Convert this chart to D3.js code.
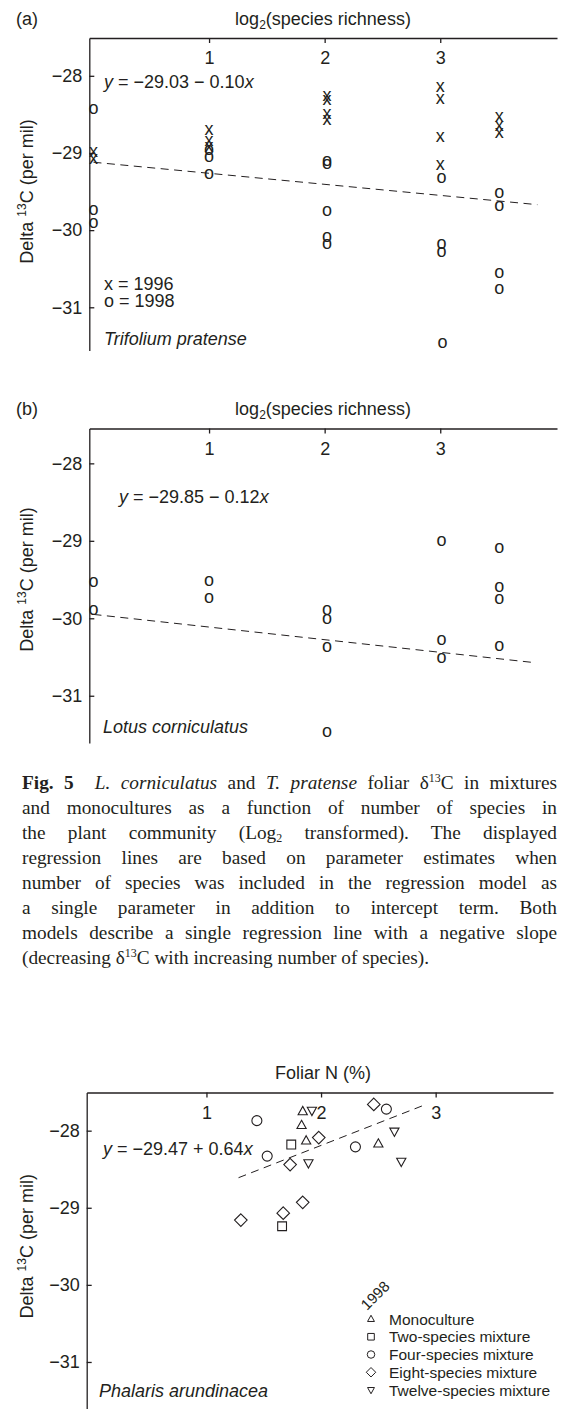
<!DOCTYPE html>
<html>
<head>
<meta charset="utf-8">
<script src="https://cdn.jsdelivr.net/npm/d3@7"></script>
<style>
  body { margin: 0; background: #fff; }
  #fig { position: relative; width: 563px; height: 1409px; overflow: hidden; }
  #chart { position: absolute; left: 0; top: 0; }
  .cap { position: absolute; left: 22px; width: 535px; color: #231f20;
         font-family: "Liberation Serif", "Times New Roman", serif; font-size: 19.3px; line-height: 25px; }
  .cap div { height: 25px; text-align: justify; white-space: nowrap; }
  .cap sup { font-size: 0.62em; vertical-align: 0.55em; line-height: 0; }
  .cap sub { font-size: 0.62em; vertical-align: -0.25em; line-height: 0; }
</style>
</head>
<body>
<div id="fig"><svg id="chart" width="563" height="1409"></svg></div>
<script>
// tick values shared by the three panels
var xTicks = [1, 2, 3];
var yTicks = [-28, -29, -30, -31];

// (a) Trifolium pratense: [log2 species richness, delta 13C]
var trifolium1996 = [[0, -28.99], [0, -29.08], [1, -28.71], [1, -28.85], [1, -28.92],
  [2.02, -28.26], [2.02, -28.32], [2.02, -28.50], [2.02, -28.58],
  [3, -28.15], [3, -28.30], [3, -28.80], [3, -29.16],
  [3.51, -28.54], [3.51, -28.65], [3.51, -28.74]];
var trifolium1998 = [[0, -28.43], [0, -29.74], [0, -29.91], [1, -28.96], [1, -29.05], [1, -29.28],
  [2.02, -29.11], [2.02, -29.14], [2.02, -29.76], [2.02, -30.09], [2.02, -30.18],
  [3.01, -29.33], [3.01, -30.18], [3.01, -30.28], [3.02, -31.46],
  [3.51, -29.52], [3.51, -29.69], [3.51, -30.56], [3.51, -30.76]];
var trifoliumLine = [[0, -29.12], [3.84, -29.67]];

// (b) Lotus corniculatus
var lotus1998 = [[0, -29.53], [0, -29.90], [1, -29.52], [1, -29.74],
  [2.02, -29.89], [2.02, -30.01], [2.02, -30.37], [2.02, -31.47],
  [3.01, -29.00], [3.01, -30.28], [3.01, -30.52],
  [3.51, -29.09], [3.51, -29.60], [3.51, -29.75], [3.51, -30.36]];
var lotusLine = [[0, -29.95], [3.8, -30.57]];

// (c) Phalaris arundinacea: [foliar N %, delta 13C]
var groups = ["Monoculture", "Two-species mixture", "Four-species mixture", "Eight-species mixture", "Twelve-species mixture"];
var phalarisMono = [[1.84, -27.75], [1.83, -27.93], [1.87, -28.13], [2.50, -28.17]];
var phalarisTwo = [[1.74, -28.18], [1.66, -29.24]];
var phalarisFour = [[1.44, -27.87], [1.53, -28.33], [2.30, -28.21], [2.57, -27.72]];
var phalarisEight = [[2.46, -27.66], [1.98, -28.09], [1.73, -28.44], [1.84, -28.93], [1.67, -29.07], [1.30, -29.16]];
var phalarisTwelve = [[1.92, -27.74], [1.89, -28.42], [2.64, -28.01], [2.70, -28.40]];
var phalarisLine = [[1.28, -28.61], [2.88, -27.68]];

var captionLines = [
  "<b>Fig. 5</b>&nbsp; <i>L. corniculatus</i> and <i>T. pratense</i> foliar \u03b4<sup>13</sup>C in mixtures",
  "and monocultures as a function of number of species in",
  "the plant community (Log<sub>2</sub> transformed). The displayed",
  "regression lines are based on parameter estimates when",
  "number of species was included in the regression model as",
  "a single parameter in addition to intercept term. Both",
  "models describe a single regression line with a negative slope",
  "(decreasing \u03b4<sup>13</sup>C with increasing number of species)."
];

var svg = d3.select("#chart");
var ink = "#231f20";
var sans = "'Liberation Sans', Arial, Helvetica, sans-serif";

function axes(p) {
  var x = d3.scaleLinear().domain(p.xDomain).range([p.left, p.right]);
  var y = d3.scaleLinear().domain(p.yDomain).range([p.bottom, p.top]);

  var gx = svg.append("g")
      .attr("transform", "translate(0," + p.top + ")")
      .call(d3.axisTop(x).tickValues(xTicks).tickFormat(d3.format("d"))
        .tickSizeInner(-5).tickSizeOuter(0));
  gx.selectAll(".tick text").attr("y", 26).attr("dy", null);

  var gy = svg.append("g")
      .attr("transform", "translate(" + p.left + ",0)")
      .call(d3.axisLeft(y).tickValues(yTicks).tickFormat(d3.format("d"))
        .tickSizeInner(-5).tickSizeOuter(0).tickPadding(7));

  [gx, gy].forEach(function(g) {
    g.attr("font-size", 18).attr("font-family", sans);
    g.selectAll("path, line").attr("stroke", ink).attr("stroke-width", 1.3);
    g.selectAll("text").attr("fill", ink);
  });

  // axis title above the frame
  var t = svg.append("text")
      .attr("x", 323).attr("y", p.top - 13.5)
      .attr("text-anchor", "middle")
      .attr("font-family", sans).attr("font-size", 18).attr("fill", ink);
  if (p.title == "log") {
    t.append("tspan").text("log");
    t.append("tspan").attr("font-size", 12).attr("dy", 4).text("2");
    t.append("tspan").attr("dy", -4).text("(species richness)");
  } else {
    t.text(p.title);
  }

  // y title
  var yt = svg.append("text")
      .attr("transform", "translate(32.5," + y(-29.5) + ") rotate(-90)")
      .attr("text-anchor", "middle")
      .attr("font-family", sans).attr("font-size", 18).attr("fill", ink);
  yt.append("tspan").text("Delta ");
  yt.append("tspan").attr("font-size", 12).attr("dy", -7).text("13");
  yt.append("tspan").attr("dy", 7).text("C (per mil)");

  if (p.tag) {
    svg.append("text").attr("x", 16).attr("y", p.top - 13.5)
      .attr("font-family", sans).attr("font-size", 18).attr("fill", ink)
      .text(p.tag);
  }
  return {x: x, y: y};
}

function glyphs(sc, data, ch) {
  svg.append("g")
      .attr("font-family", sans).attr("font-size", 18).attr("fill", ink)
      .attr("text-anchor", "middle")
    .selectAll("text")
    .data(data)
    .join("text")
      .attr("x", function(d) { return sc.x(d[0]); })
      .attr("y", function(d) { return sc.y(d[1]); })
      .attr("dy", "0.27em")
      .text(ch);
}

function dashed(sc, pts) {
  svg.append("path")
      .datum(pts)
      .attr("d", d3.line().x(function(d) { return sc.x(d[0]); }).y(function(d) { return sc.y(d[1]); }))
      .attr("fill", "none")
      .attr("stroke", ink)
      .attr("stroke-width", 1)
      .attr("stroke-dasharray", "8,5.5");
}

function note(x, y, parts, italic) {
  var t = svg.append("text").attr("x", x).attr("y", y)
      .attr("font-family", sans).attr("font-size", 18).attr("fill", ink)
      .attr("font-style", italic ? "italic" : null);
  parts.forEach(function(s) {
    t.append("tspan").attr("font-style", s[1] ? "italic" : null).text(s[0]);
  });
}

// ---- (a)
var a = axes({left: 89.3, right: 557, top: 38, bottom: 350.5,
  xDomain: [-0.036, 4.01], yDomain: [-31.56, -27.51], title: "log", tag: "(a)"});
dashed(a, trifoliumLine);
glyphs(a, trifolium1996, "x");
glyphs(a, trifolium1998, "o");
note(104, 88, [["y", 1], [" = \u221229.03 \u2212 0.10", 0], ["x", 1]]);
note(104, 290, [["x = 1996", 0]]);
note(104, 306.5, [["o = 1998", 0]]);
note(104, 345, [["Trifolium pratense", 1]]);

// ---- (b)
var b = axes({left: 89.3, right: 557, top: 428.5, bottom: 743,
  xDomain: [-0.036, 4.01], yDomain: [-31.61, -27.55], title: "log", tag: "(b)"});
dashed(b, lotusLine);
glyphs(b, lotus1998, "o");
note(119, 503, [["y", 1], [" = \u221229.85 \u2212 0.12", 0], ["x", 1]]);
note(103, 733, [["Lotus corniculatus", 1]]);

// ---- caption
var cap = d3.select("#fig").append("div").attr("class", "cap").style("top", "770px");
cap.selectAll("div")
  .data(captionLines)
  .join("div")
    .style("text-align-last", function(d, i) { return i == captionLines.length - 1 ? "left" : "justify"; })
    .html(function(d) { return d; });

// ---- (c)
var c = axes({left: 86.7, right: 553, top: 1092.5, bottom: 1409,
  xDomain: [-0.045, 4.024], yDomain: [-31.61, -27.505], title: "Foliar N (%)"});
dashed(c, phalarisLine);

var shapes = [
  function(s) { return "M0," + (-5 * s) + "L" + (4.6 * s) + "," + (3.3 * s) + "L" + (-4.6 * s) + "," + (3.3 * s) + "Z"; },
  function(s) { return "M" + (-4.4 * s) + "," + (-4.4 * s) + "h" + (8.8 * s) + "v" + (8.8 * s) + "h" + (-8.8 * s) + "Z"; },
  function(s) { var r = 5 * s; return "M" + r + ",0A" + r + "," + r + " 0 1,1 " + (-r) + ",0A" + r + "," + r + " 0 1,1 " + r + ",0Z"; },
  function(s) { return "M0," + (-6.3 * s) + "L" + (6.3 * s) + ",0L0," + (6.3 * s) + "L" + (-6.3 * s) + ",0Z"; },
  function(s) { return "M0," + (5 * s) + "L" + (4.6 * s) + "," + (-3.3 * s) + "L" + (-4.6 * s) + "," + (-3.3 * s) + "Z"; }
];
var phalarisSets = [phalarisMono, phalarisTwo, phalarisFour, phalarisEight, phalarisTwelve];

phalarisSets.forEach(function(set, k) {
  svg.append("g").selectAll("path")
    .data(set)
    .join("path")
      .attr("transform", function(d) { return "translate(" + c.x(d[0]) + "," + c.y(d[1]) + ")"; })
      .attr("d", shapes[k](1))
      .attr("fill", "none")
      .attr("stroke", ink)
      .attr("stroke-width", 1.1);
});

note(103, 1155, [["y", 1], [" = \u221229.47 + 0.64", 0], ["x", 1]]);
note(99, 1396.5, [["Phalaris arundinacea", 1]]);

// legend
svg.append("text")
    .attr("transform", "translate(367,1311) rotate(-45)")
    .attr("font-family", sans).attr("font-size", 15).attr("fill", ink)
    .text("1998");

var leg = svg.append("g").selectAll("g")
  .data(groups)
  .join("g")
    .attr("transform", function(d, i) { return "translate(371," + (1319 + i * 17.75) + ")"; });
leg.append("path")
    .attr("d", function(d, i) { return shapes[i](0.75); })
    .attr("fill", "none").attr("stroke", ink).attr("stroke-width", 1);
leg.append("text")
    .attr("x", 18).attr("dy", "0.36em")
    .attr("font-family", sans).attr("font-size", 15.5).attr("fill", ink)
    .text(function(d) { return d; });
</script>
</body>
</html>
